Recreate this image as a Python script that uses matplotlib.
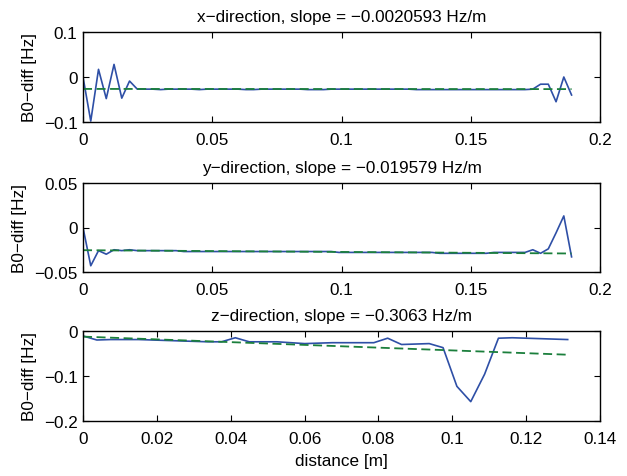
import matplotlib
matplotlib.use("Agg")
import matplotlib.pyplot as plt
import numpy as np

plt.rcParams['font.family'] = ['Liberation Sans', 'DejaVu Sans']
plt.rcParams['font.size'] = 12

# ---- data ----
xy_step = 0.003
xy_n = 64
x_xy = [i * xy_step for i in range(xy_n)]

bx = [0.0, -0.098, 0.017, -0.048, 0.028, -0.047, -0.009, -0.027,
      -0.027, -0.027, -0.028, -0.027, -0.027, -0.027, -0.027, -0.028,
      -0.027, -0.027, -0.027, -0.027, -0.027, -0.028, -0.028, -0.027,
      -0.027, -0.027, -0.027, -0.027, -0.027, -0.028, -0.028, -0.028,
      -0.027, -0.027, -0.027, -0.027, -0.027, -0.027, -0.027, -0.027,
      -0.027, -0.027, -0.027, -0.028, -0.028, -0.028, -0.028, -0.028,
      -0.028, -0.028, -0.028, -0.028, -0.028, -0.028, -0.028, -0.028,
      -0.028, -0.028, -0.027, -0.016, -0.016, -0.055, 0.0, -0.040]

by = [0.0, -0.043, -0.026, -0.030, -0.025, -0.026, -0.025, -0.026,
      -0.026, -0.026, -0.026, -0.026, -0.026, -0.027, -0.027, -0.027,
      -0.027, -0.027, -0.027, -0.027, -0.027, -0.027, -0.027, -0.027,
      -0.027, -0.027, -0.027, -0.027, -0.027, -0.027, -0.027, -0.027,
      -0.027, -0.028, -0.028, -0.028, -0.028, -0.028, -0.028, -0.028,
      -0.028, -0.028, -0.028, -0.028, -0.028, -0.028, -0.029, -0.029,
      -0.029, -0.029, -0.029, -0.029, -0.029, -0.028, -0.028, -0.028,
      -0.028, -0.028, -0.025, -0.029, -0.024, -0.006, 0.013, -0.033]

z_step = 0.00375
z_n = 36
x_z = [i * z_step for i in range(z_n)]
bz = [-0.011, -0.020, -0.019, -0.019, -0.019, -0.020, -0.021, -0.022,
      -0.023, -0.024, -0.024, -0.015, -0.024, -0.024, -0.024, -0.026,
      -0.028, -0.027, -0.026, -0.026, -0.026, -0.026, -0.016, -0.030,
      -0.029, -0.028, -0.037, -0.123, -0.157, -0.096, -0.016, -0.015,
      -0.016, -0.017, -0.018, -0.019]

# linear fit lines (endpoints)
fit_x_xy = [0.0, 0.189]
fit_x_vals = [-0.0265, -0.0269]
fit_y_vals = [-0.0255, -0.0292]
fit_x_z = [0.0, 0.13125]
fit_z_vals = [-0.0125, -0.0527]

titles = ["x\u2212direction, slope = \u22120.0020593 Hz/m",
          "y\u2212direction, slope = \u22120.019579 Hz/m",
          "z\u2212direction, slope = \u22120.3063 Hz/m"]

xticks_xy = [0, 0.05, 0.1, 0.15, 0.2]
xticklabels_xy = ["0", "0.05", "0.1", "0.15", "0.2"]
xticks_z = [0, 0.02, 0.04, 0.06, 0.08, 0.1, 0.12, 0.14]
xticklabels_z = ["0", "0.02", "0.04", "0.06", "0.08", "0.1", "0.12", "0.14"]
yticks = [[-0.1, 0, 0.1], [-0.05, 0, 0.05], [-0.2, -0.1, 0]]
yticklabels = [["\u22120.1", "0", "0.1"], ["\u22120.05", "0", "0.05"], ["\u22120.2", "\u22120.1", "0"]]
ylims = [(-0.1, 0.1), (-0.05, 0.05), (-0.2, 0.0)]

BLUE = '#2e4fa6'
GREEN = '#1b7f3c'
FS = 12.3

fig = plt.figure(figsize=(6.27, 4.77), dpi=100)
W, H = 627, 477
boxes = [(83, 33, 600, 123), (83, 184, 600, 273), (83, 332, 600, 422)]
axes = []
for (l, t, r, b) in boxes:
    axes.append(fig.add_axes([l / W, 1 - b / H, (r - l) / W, (b - t) / H]))

series = [(x_xy, bx, fit_x_xy, fit_x_vals),
          (x_xy, by, fit_x_xy, fit_y_vals),
          (x_z, bz, fit_x_z, fit_z_vals)]

for i, ax in enumerate(axes):
    xs, ys, fx, fy = series[i]
    ax.plot(xs, ys, color=BLUE, lw=1.2)
    ax.plot(fx, fy, color=GREEN, lw=1.3, linestyle=(0, (5, 2.5)))
    ax.set_ylim(*ylims[i])
    ax.set_yticks(yticks[i])
    ax.set_yticklabels(yticklabels[i])
    if i < 2:
        ax.set_xlim(0, 0.2)
        ax.set_xticks(xticks_xy)
        ax.set_xticklabels(xticklabels_xy)
    else:
        ax.set_xlim(0, 0.14)
        ax.set_xticks(xticks_z)
        ax.set_xticklabels(xticklabels_z)
    ax.tick_params(direction='in', top=True, right=True, length=4, width=0.8,
                   labelsize=FS)
    ax.tick_params(axis='y', pad=4)
    ax.tick_params(axis='x', pad=7)
    for s in ax.spines.values():
        s.set_linewidth(1.0)
    ax.set_title(titles[i], fontsize=FS, pad=8)
    ax.set_ylabel("B0\u2212diff [Hz]", fontsize=FS, labelpad=5)

axes[2].set_xlabel("distance [m]", fontsize=FS, labelpad=5)

fig.savefig("out.png", dpi=100)
